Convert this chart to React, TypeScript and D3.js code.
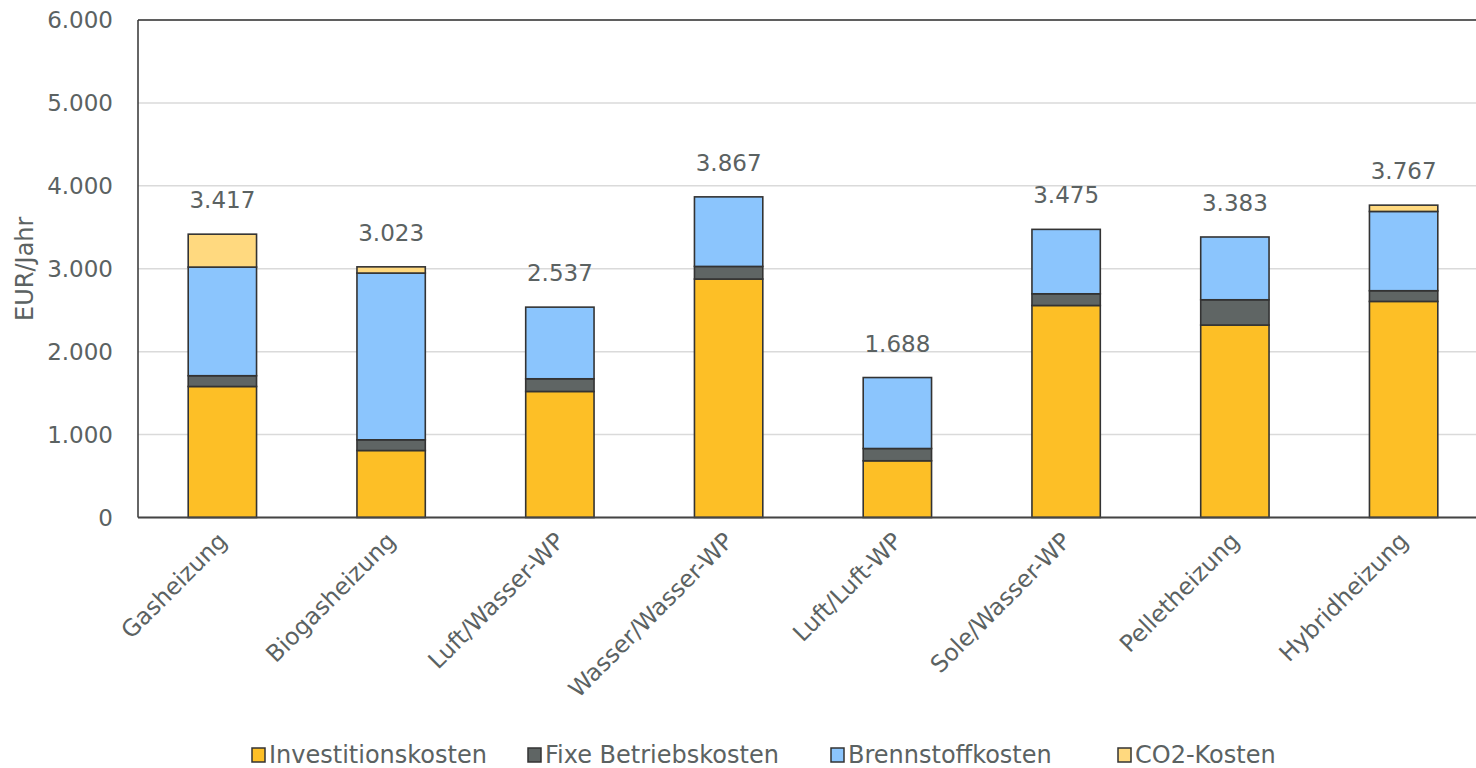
import React from "react";
import * as d3 from "d3";

// Heating systems compared
const categories = [
  "Gasheizung",
  "Biogasheizung",
  "Luft/Wasser-WP",
  "Wasser/Wasser-WP",
  "Luft/Luft-WP",
  "Sole/Wasser-WP",
  "Pelletheizung",
  "Hybridheizung",
];

// Annual cost components in EUR/Jahr
const investitionskosten = [1580, 808, 1520, 2876, 684, 2557, 2321, 2606];
const fixeBetriebskosten = [130, 129, 153, 152, 148, 141, 305, 129];
const brennstoffkosten = [1310, 2011, 864, 839, 856, 777, 757, 956];
const co2Kosten = [397, 75, 0, 0, 0, 0, 0, 76];

const seriesNames = ["Investitionskosten", "Fixe Betriebskosten", "Brennstoffkosten", "CO2-Kosten"];
const seriesColors = ["#FDBF26", "#5F6564", "#8BC5FD", "#FFD97F"];
const yTicks = [0, 1000, 2000, 3000, 4000, 5000, 6000];

const W = 1476;
const H = 768;
const FONT = "'DejaVu Sans', sans-serif";
const TEXT = "#5B6262";

const de = d3.formatLocale({ decimal: ",", thousands: ".", grouping: [3], currency: ["", " €"] });
const fmt = de.format(",.0f");

export default function App() {
  // the plot area runs a little past the right edge of the canvas
  const plot = { left: 138, right: 1488, top: 20, bottom: 517.5 };
  const x = d3
    .scaleBand<string>()
    .domain(categories)
    .range([plot.left, plot.right])
    .paddingInner(0.595)
    .paddingOuter(0.2975);
  const y = d3.scaleLinear().domain([0, 6000]).range([plot.bottom, plot.top]);

  const rows = categories.map((c, i) => ({
    cat: c,
    Investitionskosten: investitionskosten[i],
    "Fixe Betriebskosten": fixeBetriebskosten[i],
    Brennstoffkosten: brennstoffkosten[i],
    "CO2-Kosten": co2Kosten[i],
  }));
  const stacked = d3.stack<any>().keys(seriesNames)(rows);
  const totals = rows.map((r) => seriesNames.reduce((s, k) => s + (r as any)[k], 0));

  const legendItems = [
    { name: seriesNames[0], x: 252 },
    { name: seriesNames[1], x: 528 },
    { name: seriesNames[2], x: 831 },
    { name: seriesNames[3], x: 1118 },
  ];

  return (
    <svg
      width={W}
      height={H}
      style={{ position: "absolute", left: 0, top: 0, background: "#fff" }}
      fontFamily={FONT}
    >
      {/* horizontal gridlines */}
      {yTicks.map((t) => (
        <line key={t} x1={plot.left} x2={W} y1={y(t)} y2={y(t)} stroke="#DADADA" strokeWidth={1.5} />
      ))}
      {/* y tick labels */}
      {yTicks.map((t) => (
        <text
          key={"l" + t}
          x={113}
          y={y(t)}
          textAnchor="end"
          dominantBaseline="central"
          fontSize={23}
          fill={TEXT}
        >
          {fmt(t)}
        </text>
      ))}
      {/* y axis title */}
      <text
        transform={`translate(25,${(plot.top + plot.bottom) / 2}) rotate(-90)`}
        textAnchor="middle"
        dominantBaseline="central"
        fontSize={24}
        fill={TEXT}
      >
        EUR/Jahr
      </text>

      {/* stacked bars */}
      {stacked.map((layer, si) => (
        <g key={layer.key} fill={seriesColors[si]} stroke="#333" strokeWidth={1.6}>
          {layer.map((d, i) =>
            d[1] - d[0] > 0 ? (
              <rect
                key={i}
                x={x(categories[i])}
                width={x.bandwidth()}
                y={y(d[1])}
                height={y(d[0]) - y(d[1])}
              />
            ) : null
          )}
        </g>
      ))}

      {/* total labels */}
      {totals.map((t, i) => (
        <text
          key={"t" + i}
          x={(x(categories[i]) as number) + x.bandwidth() / 2}
          y={y(t) - 34}
          textAnchor="middle"
          dominantBaseline="central"
          fontSize={23}
          fill={TEXT}
        >
          {fmt(t)}
        </text>
      ))}

      {/* plot frame */}
      <line x1={plot.left} x2={W} y1={plot.top} y2={plot.top} stroke="#333" strokeWidth={1.5} />
      <line x1={plot.left} x2={plot.left} y1={plot.top} y2={plot.bottom} stroke="#333" strokeWidth={1.5} />
      <line x1={plot.left} x2={W} y1={plot.bottom} y2={plot.bottom} stroke="#444" strokeWidth={2} />

      {/* category labels */}
      {categories.map((c) => (
        <text
          key={c}
          transform={`translate(${(x(c) as number) + x.bandwidth() / 2 + 6},${plot.bottom + 25}) rotate(-45)`}
          textAnchor="end"
          fontSize={23.5}
          fill={TEXT}
        >
          {c}
        </text>
      ))}

      {/* legend */}
      {legendItems.map((it, i) => (
        <g key={it.name} transform={`translate(${it.x},755)`}>
          <rect x={0} y={-7} width={13} height={14} fill={seriesColors[i]} stroke="#333" strokeWidth={1.5} />
          <text x={17} y={0} dominantBaseline="central" fontSize={24} fill={TEXT}>
            {it.name}
          </text>
        </g>
      ))}
    </svg>
  );
}
